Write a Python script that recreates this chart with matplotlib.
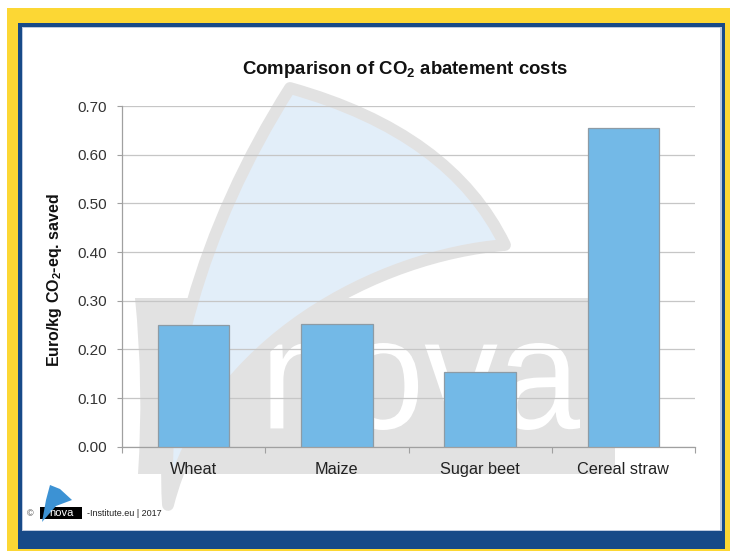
import numpy as np
import matplotlib
matplotlib.use("Agg")
import matplotlib.pyplot as plt
from matplotlib.patches import Rectangle, PathPatch, Polygon
from matplotlib.path import Path
from matplotlib.textpath import TextPath
from matplotlib.font_manager import FontProperties
from matplotlib.transforms import Affine2D

# --- data -------------------------------------------------------------
categories = ["Wheat", "Maize", "Sugar beet", "Cereal straw"]
costs = [0.250, 0.253, 0.154, 0.654]          # Euro per kg CO2-eq. saved
y_ticks = [0.00, 0.10, 0.20, 0.30, 0.40, 0.50, 0.60, 0.70]

plt.rcParams["font.family"] = ["Liberation Sans", "DejaVu Sans"]
plt.rcParams["mathtext.fontset"] = "custom"
plt.rcParams["mathtext.rm"] = "Liberation Sans"
plt.rcParams["mathtext.bf"] = "Liberation Sans:bold"

W, H = 730, 551
fig = plt.figure(figsize=(W / 100, H / 100), dpi=100)
fig.patch.set_facecolor("white")

# --- background layer in pixel coordinates ---------------------------
bg = fig.add_axes([0, 0, 1, 1], zorder=0)
bg.set_xlim(0, W)
bg.set_ylim(H, 0)
bg.axis("off")

YELLOW = "#fcd734"
NAVY = "#174a88"
bg.add_patch(Rectangle((7, 8), W - 7, H - 8, color=YELLOW, lw=0))
bg.add_patch(Rectangle((18, 23), 707, 526, color=NAVY, lw=0))
bg.add_patch(Rectangle((21.5, 26.5), 700, 504, color="#bcc9de", lw=0))
bg.add_patch(Rectangle((23, 28), 697, 502, color="white", lw=0))

# watermark: grey box with white lettering and a sail
GREY = "#e2e2e2"
box = Path([(135, 298), (615, 298), (615, 474), (138, 474),
            (144, 386), (135, 298), (135, 298)],
           [Path.MOVETO, Path.LINETO, Path.LINETO, Path.LINETO,
            Path.CURVE3, Path.CURVE3, Path.CLOSEPOLY])
bg.add_patch(PathPatch(box, facecolor=GREY, edgecolor="none"))

tp = TextPath((0, 0), "nova", size=100,
              prop=FontProperties(family="Liberation Sans"))
ext = tp.get_extents()
x0, x1, y0, y1 = 270, 580, 343, 430
sx = (x1 - x0) / ext.width
sy = (y1 - y0) / ext.height
tr = Affine2D().translate(-ext.x0, -ext.y0).scale(sx, -sy).translate(x0, y1)
bg.add_patch(PathPatch(tr.transform_path(tp), facecolor="white",
                       edgecolor="none", transform=bg.transData))

A, R, B = (290, 88), (505, 245), (168, 505)
sail = Path([A, (451, 133), R,
             (380, 255), (210, 340), B,
             (160, 380), (200, 230), A, A],
            [Path.MOVETO, Path.CURVE3, Path.CURVE3,
             Path.CURVE4, Path.CURVE4, Path.CURVE4,
             Path.CURVE4, Path.CURVE4, Path.CURVE4, Path.CLOSEPOLY])
bg.add_patch(PathPatch(sail, facecolor="#e2eef9", edgecolor=GREY,
                       lw=8.5, joinstyle="round"))

# footer logo and credit
bg.text(30, 513.5, "\u00a9", fontsize=6.5, ha="center", va="center",
        color="#444444")
bg.add_patch(Rectangle((40, 507), 42, 12, color="black", lw=0))
bg.text(61, 513, "nova", fontsize=8, color="white", ha="center",
        va="center")
bg.add_patch(Polygon([(50, 485), (60, 489), (72, 500), (56, 506),
                      (42, 522), (46, 500)], closed=True,
                     facecolor="#3c92d4", edgecolor="none"))
bg.text(87, 513.5, "-Institute.eu | 2017", fontsize=6.5, ha="left",
        va="center", color="#222222")

# --- chart ------------------------------------------------------------
ax = fig.add_axes([122 / W, 1 - 446.7 / H, 573 / W, 340.7 / H], zorder=1)
ax.patch.set_alpha(0)

x = np.arange(len(categories))
ax.bar(x, costs, width=0.5, color="#73b9e7", edgecolor="#8d9ba5",
       linewidth=0.9, zorder=3)

ax.set_xlim(-0.5, len(categories) - 0.5)
ax.set_ylim(0, 0.70)
ax.set_yticks(y_ticks)
ax.set_yticklabels([f"{v:.2f}" for v in y_ticks])
ax.set_xticks(x)
ax.set_xticklabels(categories)
ax.set_xticks(np.arange(len(categories) + 1) - 0.5, minor=True)

ax.tick_params(axis="x", which="major", length=0, pad=11,
               labelsize=11.7, labelcolor="#222222")
ax.tick_params(axis="x", which="minor", length=4.3, width=0.8,
               color="#a0a0a0", direction="out")
ax.tick_params(axis="y", length=3.6, width=0.8, color="#a0a0a0",
               labelsize=11, labelcolor="#333333", pad=7)

ax.yaxis.grid(True, color="#c6c6c6", lw=0.9, zorder=1)
ax.set_axisbelow(True)
for s in ("top", "right"):
    ax.spines[s].set_visible(False)
for s in ("left", "bottom"):
    ax.spines[s].set_color("#a0a0a0")
    ax.spines[s].set_linewidth(0.9)

ax.set_ylabel(r"Euro/kg CO$_\mathbf{2}$-eq. saved", fontsize=11.5,
              fontweight="bold", color="#111111")
ax.yaxis.set_label_coords(-0.102, 0.49)
fig.text(405 / W, 1 - 69 / H, r"Comparison of CO$_\mathbf{2}$ abatement costs",
         fontsize=13.4, fontweight="bold", ha="center", va="center",
         color="#111111")

fig.savefig("out.png", dpi=100)
